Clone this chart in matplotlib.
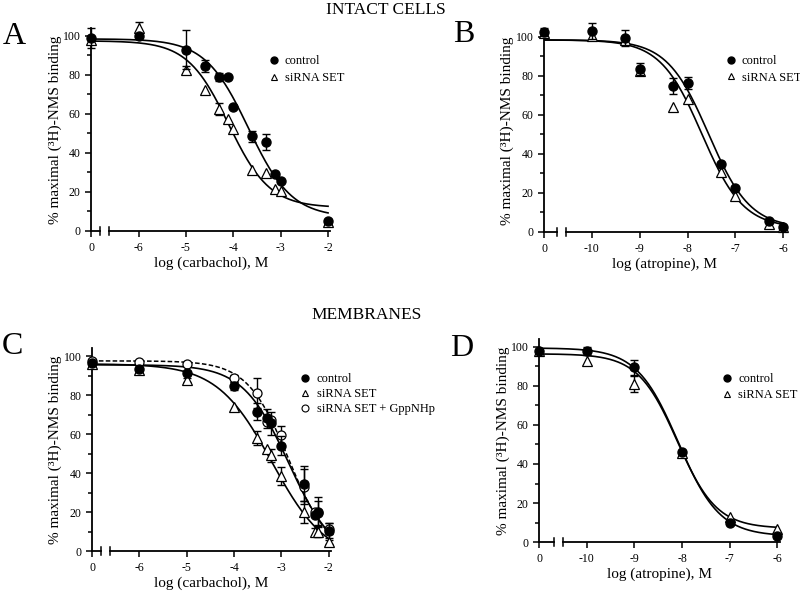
import numpy as np
import matplotlib.pyplot as plt

plt.rcParams['font.family'] = ['Liberation Serif', 'DejaVu Serif']

# the "0" (no drug) point is drawn one decade left of the first real tick
carb_ticks = [-7, -6, -5, -4, -3, -2]
carb_labels = ['0', '-6', '-5', '-4', '-3', '-2']
atro_ticks = [-11, -10, -9, -8, -7, -6]
atro_labels = ['0', '-10', '-9', '-8', '-7', '-6']

# panel A - intact cells, carbachol
a_x = [-7, -6, -5, -4.6, -4.3, -4.12, -4.0, -3.6, -3.3, -3.12, -3.0, -2.0]
a_ctrl = [99, 100, 93, 84.5, 79, 79, 63.5, 48.5, 45.5, 29, 25.5, 5]
a_ctrl_err = [5, 1, 10, 3, 2, 0, 0, 3, 4, 0, 0, 1]
a_sirna = [98, 104, 82.5, 72.5, 62.5, 57.5, 52.5, 31.5, 29.5, 21.5, 20.5, 4.5]
a_sirna_err = [0, 3, 2, 0, 3, 0, 0, 0, 0, 0, 0, 1]
a_fit_ctrl = [98.5, 7, -3.68, 0.95]
a_fit_sirna = [97.5, 12, -4.1, 1.0]

# panel B - intact cells, atropine
b_x = [-11, -10, -9.3, -9.0, -8.3, -8.0, -7.3, -7.0, -6.3, -6.0]
b_ctrl = [102.5, 103, 99.5, 83.5, 75, 76.5, 35, 22.5, 5.8, 2.7]
b_ctrl_err = [2, 4, 4, 3, 4, 3, 0, 0, 0, 0]
b_sirna = [102, 100.5, 98.5, 82.5, 64, 68, 31, 18.5, 4, 2.7]
b_sirna_err = [0, 0, 0, 0, 0, 0, 0, 0, 0, 0]
b_fit_ctrl = [98.5, 2, -7.56, 1.0]
b_fit_sirna = [98.5, 2, -7.7, 1.0]

# panel C - membranes, carbachol
c_x = [-7, -6, -5, -4, -3.52, -3.3, -3.22, -3.0, -2.52, -2.3, -2.22, -2.0]
c_ctrl = [96.5, 93.5, 91.5, 84.5, 71.5, 68, 65.5, 54, 34.5, 18.5, 20, 10.5]
c_ctrl_err = [1, 1, 1, 2, 4.5, 5, 6, 5, 9, 0, 7.5, 4]
c_sirna = [96, 93, 87.5, 74, 58, 52.5, 49, 38.5, 20, 10, 10, 4.8]
c_sirna_err = [0, 0, 1, 0, 3.5, 0, 3.5, 4.5, 5.5, 2, 3, 1]
c_gpp = [97.5, 97, 96, 88.5, 81, 66, 67, 59.5, 33, 20, 19.5, 11.5]
c_gpp_err = [0, 0, 0, 2, 7.5, 0, 0, 4.5, 9, 0, 6, 3]
c_fit_ctrl = [95.5, -5, -2.85, 0.9]
c_fit_sirna = [96, -5, -3.2, 0.75]
c_fit_gpp = [97.5, -3, -2.85, 1.0]

# panel D - membranes, atropine
d_x = [-11, -10, -9, -8, -7, -6]
d_ctrl = [98, 98, 89.5, 46, 10, 3.2]
d_ctrl_err = [1, 2, 4, 1, 1, 0]
d_sirna = [98, 93, 81, 45.5, 13, 6.5]
d_sirna_err = [0, 0, 4, 0, 0, 0]
d_fit_ctrl = [99.5, 3, -8.08, 1.0]
d_fit_sirna = [96.5, 7, -8.1, 1.05]

ylab = '% maximal (³H)-NMS binding'


def logistic(x, p):
    top, bottom, ic50, hill = p
    return bottom + (top - bottom) / (1 + 10 ** ((x - ic50) * hill))


def points(ax, x, y, err, **kw):
    x = np.array(x)
    y = np.array(y)
    err = np.array(err, dtype=float)
    m = err > 0
    eb = ax.errorbar(x[m], y[m], yerr=err[m], fmt='none', ecolor='black',
                     elinewidth=1, capsize=3, capthick=1, zorder=kw.get('zorder', 3))
    for art in eb.lines[1] + eb.lines[2]:
        art.set_clip_on(False)
    ax.plot(x, y, linestyle='none', clip_on=False, **kw)


def setup(ax, ticks, labels, brk, xlabel):
    ax.set_xlim(ticks[0], ticks[-1] + 0.05)
    ax.set_ylim(0, 104)
    ax.spines['top'].set_visible(False)
    ax.spines['right'].set_visible(False)
    ax.spines['bottom'].set_visible(False)
    ax.spines['left'].set_linewidth(1.3)
    ax.set_xticks(ticks)
    ax.set_xticklabels(labels)
    ax.set_yticks([0, 20, 40, 60, 80, 100])
    ax.set_yticks([10, 30, 50, 70, 90], minor=True)
    ax.tick_params(axis='both', labelsize=8.5, width=1.1, length=4, direction='out')
    ax.tick_params(axis='y', which='minor', length=3, width=1.1)
    ax.tick_params(axis='x', length=4, pad=4)
    tr = ax.get_xaxis_transform()
    # broken x axis
    ax.plot([ticks[0], brk[0]], [0, 0], color='black', lw=1.3, transform=tr, clip_on=False)
    ax.plot([brk[1], ticks[-1] + 0.05], [0, 0], color='black', lw=1.3, transform=tr, clip_on=False)
    for b in brk:
        ax.plot([b, b], [-0.018, 0.018], color='black', lw=1.1, transform=tr, clip_on=False)
    ax.set_xlabel(xlabel, fontsize=11, labelpad=2)
    ax.set_ylabel(ylab, fontsize=11, labelpad=1)


fig = plt.figure(figsize=(8, 5.93), dpi=100)
axA = fig.add_axes([0.114, 0.6105, 0.299, 0.342])
axB = fig.add_axes([0.68, 0.6088, 0.302, 0.342])
axC = fig.add_axes([0.115, 0.0708, 0.299, 0.342])
axD = fig.add_axes([0.674, 0.086, 0.3005, 0.342])

ctrl_style = dict(marker='o', ms=6.5, mfc='black', mec='black', zorder=4)
sirna_style = dict(marker='^', ms=6.5, mfc='white', mec='black', mew=0.9, zorder=3)
gpp_style = dict(marker='o', ms=6.5, mfc='white', mec='black', mew=0.9, zorder=3)

# A
xx = np.linspace(-7, -2, 300)
axA.plot(xx, logistic(xx, a_fit_ctrl), color='black', lw=1.2)
axA.plot(xx, logistic(xx, a_fit_sirna), color='black', lw=1.2)
points(axA, a_x, a_sirna, a_sirna_err, **sirna_style)
points(axA, a_x, a_ctrl, a_ctrl_err, **ctrl_style)
setup(axA, carb_ticks, carb_labels, [-6.81, -6.62], 'log (carbachol), M')

# B
xx = np.linspace(-11, -6, 300)
axB.plot(xx, logistic(xx, b_fit_ctrl), color='black', lw=1.2)
axB.plot(xx, logistic(xx, b_fit_sirna), color='black', lw=1.2)
points(axB, b_x, b_sirna, b_sirna_err, **sirna_style)
points(axB, b_x, b_ctrl, b_ctrl_err, **ctrl_style)
setup(axB, atro_ticks, atro_labels, [-10.73, -10.53], 'log (atropine), M')

# C
xx = np.linspace(-7, -2, 300)
axC.plot(xx, logistic(xx, c_fit_ctrl), color='black', lw=1.2)
axC.plot(xx, logistic(xx, c_fit_sirna), color='black', lw=1.2)
axC.plot(xx, logistic(xx, c_fit_gpp), color='black', lw=1.1, linestyle=(0, (3, 1.5)))
points(axC, c_x, c_sirna, c_sirna_err, **sirna_style)
points(axC, c_x, c_gpp, c_gpp_err, **gpp_style)
points(axC, c_x, c_ctrl, c_ctrl_err, **ctrl_style)
setup(axC, carb_ticks, carb_labels, [-6.81, -6.62], 'log (carbachol), M')

# D
xx = np.linspace(-11, -6, 300)
axD.plot(xx, logistic(xx, d_fit_ctrl), color='black', lw=1.2)
axD.plot(xx, logistic(xx, d_fit_sirna), color='black', lw=1.2)
points(axD, d_x, d_sirna, d_sirna_err, **sirna_style)
points(axD, d_x, d_ctrl, d_ctrl_err, **ctrl_style)
setup(axD, atro_ticks, atro_labels, [-10.68, -10.5], 'log (atropine), M')

# legends
h_ctrl = plt.Line2D([], [], linestyle='none', marker='o', ms=5, mfc='black', mec='black')
h_sirna = plt.Line2D([], [], linestyle='none', marker='^', ms=5, mfc='white', mec='black', mew=0.8)
h_gpp = plt.Line2D([], [], linestyle='none', marker='o', ms=5, mfc='white', mec='black', mew=0.8)
leg_kw = dict(frameon=False, fontsize=9, handlelength=1.0, handletextpad=0.4,
              borderpad=0, borderaxespad=0, loc='upper left')
axA.legend([h_ctrl, h_sirna], ['control', 'siRNA SET'], labelspacing=0.4,
           bbox_to_anchor=(0.736, 0.867), **leg_kw)
axB.legend([h_ctrl, h_sirna], ['control', 'siRNA SET'], labelspacing=0.35,
           bbox_to_anchor=(0.747, 0.872), **leg_kw)
axC.legend([h_ctrl, h_sirna, h_gpp], ['control', 'siRNA SET', 'siRNA SET + GppNHp'],
           labelspacing=0.25, bbox_to_anchor=(0.866, 0.877), **leg_kw)
axD.legend([h_ctrl, h_sirna], ['control', 'siRNA SET'], labelspacing=0.35,
           bbox_to_anchor=(0.755, 0.833), **leg_kw)

# titles and panel letters
fig.text(386 / 800, 1 - 10 / 593, 'INTACT CELLS', ha='center', va='center', fontsize=12.5)
fig.text(367 / 800, 1 - 315 / 593, 'MEMBRANES', ha='center', va='center', fontsize=12.5)
for letter, px, py in [('A', 14, 37), ('B', 464, 35), ('C', 12, 347), ('D', 462, 348)]:
    fig.text(px / 800, 1 - py / 593, letter, ha='center', va='center', fontsize=23)

fig.savefig('out.png', dpi=100)
